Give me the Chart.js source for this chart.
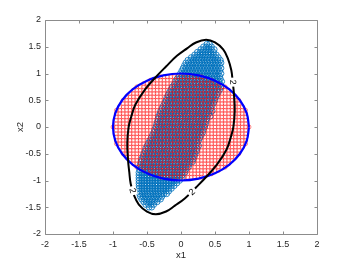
<!DOCTYPE html>
<html lang="en">
<head>
<meta charset="UTF-8" />
<title>Contour over grid points</title>
<style>
  * { margin: 0; padding: 0; box-sizing: border-box; }
  body { background: #fff; }
</style>
</head>
<body>
<canvas id="myChart" width="350" height="263"></canvas>
<script src="https://cdn.jsdelivr.net/npm/chart.js"></script>
<script>
const tickValues = [-2, -1.5, -1, -0.5, 0, 0.5, 1, 1.5, 2];
const tickLabels = ["-2", "-1.5", "-1", "-0.5", "0", "0.5", "1", "1.5", "2"];

// red grid inside the unit circle
const gridX = [-1, -0.95, -0.9, -0.85, -0.8, -0.75, -0.7, -0.65, -0.6, -0.55, -0.5, -0.45, -0.4, -0.35, -0.3, -0.25, -0.2, -0.15, -0.1, -0.05,
  0, 0.05, 0.1, 0.15, 0.2, 0.25, 0.3, 0.35, 0.4, 0.45, 0.5, 0.55, 0.6, 0.65, 0.7, 0.75, 0.8, 0.85, 0.9, 0.95, 1];
const redRowsY = [-0.9375, -0.875, -0.8125, -0.75, -0.6875, -0.625, -0.5625, -0.5, -0.4375, -0.375, -0.3125, -0.25, -0.1875, -0.125, -0.0625,
  0, 0.0625, 0.125, 0.1875, 0.25, 0.3125, 0.375, 0.4375, 0.5, 0.5625, 0.625, 0.6875, 0.75, 0.8125, 0.875, 0.9375];
const redRowsHalf = [0.348, 0.484, 0.583, 0.661, 0.726, 0.781, 0.827, 0.866, 0.899, 0.927, 0.95, 0.968, 0.982, 0.992, 0.998,
  1, 0.998, 0.992, 0.982, 0.968, 0.95, 0.927, 0.899, 0.866, 0.827, 0.781, 0.726, 0.661, 0.583, 0.484, 0.348];

// blue sample cloud, row by row (left / right edge)
const blueRowsY = [1.55, 1.5, 1.45, 1.4, 1.35, 1.3, 1.25, 1.2, 1.15, 1.1, 1.05, 1, 0.95, 0.9, 0.85, 0.8, 0.75, 0.7, 0.65, 0.6, 0.55, 0.5,
  0.45, 0.4, 0.35, 0.3, 0.25, 0.2, 0.15, 0.1, 0.05, 0, -0.05, -0.1, -0.15, -0.2, -0.25, -0.3, -0.35, -0.4, -0.45, -0.5, -0.55, -0.6,
  -0.65, -0.7, -0.75, -0.8, -0.85, -0.9, -0.95, -1, -1.05, -1.1, -1.15, -1.2, -1.25, -1.3, -1.35, -1.4, -1.45, -1.5];
const blueLeft = [0.38, 0.33, 0.29, 0.24, 0.2, 0.15, 0.1, 0.07, 0.05, 0.03, 0.01, -0.01, -0.03, -0.06, -0.08, -0.1, -0.13, -0.15, -0.17, -0.19, -0.21, -0.22,
  -0.24, -0.26, -0.28, -0.3, -0.31, -0.33, -0.34, -0.35, -0.36, -0.37, -0.39, -0.4, -0.42, -0.44, -0.46, -0.48, -0.5, -0.52, -0.53, -0.55, -0.56, -0.58,
  -0.59, -0.6, -0.61, -0.61, -0.62, -0.62, -0.62, -0.62, -0.62, -0.62, -0.62, -0.62, -0.61, -0.6, -0.58, -0.55, -0.52, -0.47];
const blueRight = [0.42, 0.46, 0.49, 0.51, 0.53, 0.56, 0.58, 0.59, 0.6, 0.6, 0.6, 0.6, 0.6, 0.6, 0.6, 0.59, 0.59, 0.58, 0.57, 0.56, 0.54, 0.53,
  0.51, 0.49, 0.47, 0.46, 0.44, 0.43, 0.41, 0.4, 0.38, 0.36, 0.35, 0.33, 0.32, 0.3, 0.28, 0.27, 0.26, 0.24, 0.23, 0.22, 0.2, 0.18,
  0.17, 0.15, 0.12, 0.1, 0.07, 0.05, 0.02, -0.02, -0.05, -0.08, -0.12, -0.17, -0.21, -0.25, -0.3, -0.34, -0.37, -0.4];
const blueStepX = 0.04;

// unit circle
const circleX = [1, 0.966, 0.866, 0.707, 0.5, 0.259, 0, -0.259, -0.5, -0.707, -0.866, -0.966, -1, -0.966, -0.866, -0.707, -0.5, -0.259, 0, 0.259, 0.5, 0.707, 0.866, 0.966, 1];
const circleY = [0, 0.259, 0.5, 0.707, 0.866, 0.966, 1, 0.966, 0.866, 0.707, 0.5, 0.259, 0, -0.259, -0.5, -0.707, -0.866, -0.966, -1, -0.966, -0.866, -0.707, -0.5, -0.259, 0];

// contour level 2 (starts at a label so the seam is hidden)
const contourX = [0.76, 0.78, 0.79, 0.77, 0.73, 0.67, 0.53, 0.38, 0.22, 0.06, -0.09, -0.22, -0.37, -0.5, -0.62, -0.69, -0.74,
  -0.76, -0.78, -0.79, -0.77, -0.73, -0.67, -0.53, -0.38, -0.22, -0.06, 0.09, 0.22, 0.37, 0.5, 0.62, 0.69, 0.74, 0.76];
const contourY = [0.85, 0.6, 0.3, 0, -0.2, -0.42, -0.7, -0.92, -1.13, -1.33, -1.47, -1.58, -1.63, -1.58, -1.45, -1.28, -1.06,
  -0.85, -0.6, -0.3, 0, 0.2, 0.42, 0.7, 0.92, 1.13, 1.33, 1.47, 1.58, 1.63, 1.58, 1.45, 1.28, 1.06, 0.85];
const contourLabelX = [0.765, 0.16, -0.71];
const contourLabelY = [0.84, -1.21, -1.19];
const contourLabelAngle = [88, -42, 74];

const redPts = [];
redRowsY.forEach((yv, i) => {
  gridX.forEach((xv) => {
    if (Math.abs(xv) <= redRowsHalf[i] + 1e-9) redPts.push({ x: xv, y: yv });
  });
});

const bluePts = [];
blueRowsY.forEach((yv, i) => {
  for (let xv = blueLeft[i]; xv <= blueRight[i] + 1e-9; xv += blueStepX) bluePts.push({ x: xv, y: yv });
});

const toPts = (xs, ys) => xs.map((v, i) => ({ x: v, y: ys[i] }));
const FONT = "'Liberation Sans', Arial, sans-serif";

const matlabAxes = {
  id: "matlabAxes",
  afterDatasetsDraw(chart) {
    const { ctx, chartArea: a, scales: { x, y } } = chart;
    ctx.save();
    ctx.setLineDash([]);
    ctx.globalAlpha = 1;

    // contour labels with a gap in the line
    ctx.font = "9px " + FONT;
    ctx.textAlign = "center";
    ctx.textBaseline = "middle";
    contourLabelX.forEach((lx, i) => {
      ctx.save();
      ctx.translate(x.getPixelForValue(lx), y.getPixelForValue(contourLabelY[i]));
      ctx.rotate((contourLabelAngle[i] * Math.PI) / 180);
      ctx.fillStyle = "#fff";
      ctx.fillRect(-4.5, -4, 9, 8);
      ctx.fillStyle = "#000";
      ctx.fillText("2", 0, 0.5);
      ctx.restore();
    });

    // box and inward ticks
    const L = Math.round(a.left) + 0.5, R = Math.round(a.right) + 0.5;
    const T = Math.round(a.top) + 0.5, B = Math.round(a.bottom) + 0.5;
    ctx.strokeStyle = "#8c8c8c";
    ctx.lineWidth = 1;
    ctx.beginPath();
    ctx.rect(L, T, R - L, B - T);
    tickValues.forEach((v) => {
      const px = Math.round(x.getPixelForValue(v)) + 0.5;
      ctx.moveTo(px, B); ctx.lineTo(px, B - 3);
      ctx.moveTo(px, T); ctx.lineTo(px, T + 3);
      const py = Math.round(y.getPixelForValue(v)) + 0.5;
      ctx.moveTo(L, py); ctx.lineTo(L + 3, py);
      ctx.moveTo(R, py); ctx.lineTo(R - 3, py);
    });
    ctx.stroke();

    // axis titles
    ctx.fillStyle = "#262626";
    ctx.font = "9.5px " + FONT;
    ctx.fillText("x1", (a.left + a.right) / 2, 255);
    ctx.save();
    ctx.translate(20, (a.top + a.bottom) / 2);
    ctx.rotate(-Math.PI / 2);
    ctx.fillText("x2", 0, 0);
    ctx.restore();

    ctx.restore();
  },
};

const scaleBase = {
  type: "linear",
  min: -2,
  max: 2,
  grid: { display: false, drawTicks: false, tickLength: 0 },
  border: { display: false },
  afterBuildTicks: (s) => { s.ticks = tickValues.map((v) => ({ value: v })); },
};

new Chart(document.getElementById("myChart"), {
  type: "scatter",
  data: {
    datasets: [
      {
        data: toPts(contourX, contourY),
        showLine: true, tension: 0.4, pointRadius: 0,
        borderColor: "#000", borderWidth: 2, order: 0,
      },
      {
        data: toPts(circleX, circleY),
        showLine: true, tension: 0.4, pointRadius: 0,
        borderColor: "#0000ff", borderWidth: 2.2, order: 1,
      },
      {
        data: redPts,
        pointRadius: 2, pointBorderWidth: 0.7,
        borderColor: "rgba(255,0,0,0.65)", backgroundColor: "rgba(0,0,0,0)", order: 2,
      },
      {
        data: bluePts,
        pointRadius: 2.8, pointBorderWidth: 1,
        borderColor: "rgba(0,114,189,0.85)", backgroundColor: "rgba(0,0,0,0)", order: 3,
      },
    ],
  },
  options: {
    responsive: false,
    animation: false,
    events: [],
    layout: { padding: { left: 0, right: 33, top: 20, bottom: 0 } },
    plugins: { legend: { display: false }, tooltip: { enabled: false } },
    scales: {
      x: {
        ...scaleBase,
        afterFit: (s) => { s.height = 29; },
        ticks: {
          padding: 5, color: "#262626", maxRotation: 0,
          font: { size: 9, family: FONT },
          callback: (v) => tickLabels[tickValues.indexOf(v)],
        },
      },
      y: {
        ...scaleBase,
        afterFit: (s) => { s.width = 45; },
        ticks: {
          padding: 4, color: "#262626",
          font: { size: 9, family: FONT },
          callback: (v) => tickLabels[tickValues.indexOf(v)],
        },
      },
    },
  },
  plugins: [matlabAxes],
});
</script>
</body>
</html>
